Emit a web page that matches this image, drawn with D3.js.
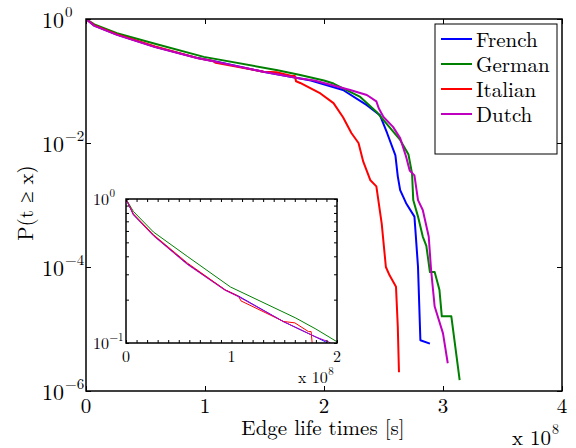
<!DOCTYPE html>
<html>
<head>
<meta charset="utf-8">
<script src="https://cdn.jsdelivr.net/npm/d3@7"></script>
<style>
  body { margin: 0; background: #fff; }
</style>
</head>
<body>
<div id="chart"></div>
<script>
// ---- data (x in units of 1e8 s, P = P(t >= x)) ----
const seriesNames = ["French", "German", "Italian", "Dutch"];

const frenchX = [0, 0.07, 0.26, 0.58, 0.94, 1.07, 1.49, 1.80, 1.89, 2.16, 2.36, 2.47, 2.53, 2.60, 2.62, 2.64, 2.69, 2.76, 2.77, 2.79, 2.81, 2.89];
const frenchP = [1, 0.78, 0.56, 0.355, 0.234, 0.211, 0.141, 0.110, 0.102, 0.0716, 0.0407, 0.0282, 0.0145, 0.0063, 0.0029, 0.00174, 0.00107, 6.5e-4, 3.5e-4, 1.0e-4, 6.6e-6, 5.8e-6];

const germanX = [0, 0.07, 0.26, 0.58, 0.99, 1.61, 1.80, 2.0, 2.08, 2.30, 2.44, 2.55, 2.64, 2.71, 2.74, 2.75, 2.79, 2.83, 2.86, 2.89, 2.93, 2.97, 2.99, 3.07, 3.14];
const germanP = [1, 0.82, 0.59, 0.40, 0.245, 0.149, 0.125, 0.102, 0.091, 0.056, 0.032, 0.018, 0.0112, 0.0065, 0.0032, 0.0012, 6.5e-4, 3.1e-4, 2.2e-4, 8.3e-5, 8.3e-5, 4.3e-5, 1.6e-5, 1.6e-5, 1.5e-6];

const italianX = [0, 0.07, 0.26, 0.58, 0.94, 1.067, 1.09, 1.494, 1.60, 1.73, 1.755, 1.765, 1.80, 1.97, 2.08, 2.16, 2.23, 2.29, 2.33, 2.39, 2.44, 2.485, 2.52, 2.55, 2.605, 2.62, 2.63];
const italianP = [1, 0.79, 0.565, 0.36, 0.234, 0.211, 0.196, 0.141, 0.138, 0.120, 0.120, 0.099, 0.093, 0.063, 0.044, 0.026, 0.0145, 0.010, 0.005, 0.0025, 0.002, 5e-4, 1e-4, 7.4e-5, 4.8e-5, 1.1e-5, 2.0e-6];

const dutchX = [0, 0.07, 0.26, 0.58, 0.94, 1.07, 1.49, 1.80, 1.92, 2.22, 2.36, 2.44, 2.46, 2.50, 2.58, 2.64, 2.69, 2.72, 2.76, 2.79, 2.83, 2.88, 2.90, 2.93, 3.00, 3.04];
const dutchP = [1, 0.776, 0.555, 0.352, 0.232, 0.209, 0.141, 0.110, 0.102, 0.0716, 0.0594, 0.0468, 0.0363, 0.0263, 0.0182, 0.0120, 0.0060, 0.0036, 0.0030, 0.0012, 8.3e-4, 3.1e-4, 8.9e-5, 2.3e-5, 8.5e-6, 2.8e-6];

// tick labels
const mainXTicks = [0, 1, 2, 3, 4];
const mainYExps = [0, -2, -4, -6];
const insetXTicks = [0, 1, 2];
const insetYExps = [0, -1];

// ---- drawing ----
const FONT = "'Latin Modern Roman', 'Liberation Serif'";
const colors = ["#0000ff", "#008000", "#ff0000", "#bf00bf"];
const series = [
  { name: seriesNames[0], xs: frenchX, ps: frenchP },
  { name: seriesNames[1], xs: germanX, ps: germanP },
  { name: seriesNames[2], xs: italianX, ps: italianP },
  { name: seriesNames[3], xs: dutchX, ps: dutchP }
].map((s, i) => ({ ...s, color: colors[i], pts: s.xs.map((x, j) => [x, s.ps[j]]) }));

const W = 576, H = 448;
const svg = d3.select("#chart").append("svg")
  .attr("width", W).attr("height", H);

// main plot area
const m = { left: 86, top: 19, right: 562, bottom: 391 };
const x = d3.scaleLinear().domain([0, 4]).range([m.left, m.right]);
const y = d3.scaleLog().domain([1e-6, 1]).range([m.bottom, m.top]);

svg.append("defs").append("clipPath").attr("id", "mainclip")
  .append("rect").attr("x", m.left).attr("y", m.top)
  .attr("width", m.right - m.left).attr("height", m.bottom - m.top);

const line = d3.line().x(d => x(d[0])).y(d => y(d[1]));

svg.append("g").attr("clip-path", "url(#mainclip)")
  .selectAll("path").data(series).enter().append("path")
  .attr("d", d => line(d.pts))
  .attr("fill", "none")
  .attr("stroke", d => d.color)
  .attr("stroke-width", 2)
  .attr("stroke-linejoin", "round");

// axes, ticks pointing inwards on all four sides
function tickAxis(axis, transform) {
  const g = svg.append("g").attr("transform", transform).call(axis);
  g.select(".domain").remove();
  g.selectAll(".tick line").attr("stroke", "#000").attr("stroke-width", 1);
  g.selectAll(".tick text").remove();
  return g;
}
tickAxis(d3.axisBottom(x).tickValues(mainXTicks).tickSize(-5), `translate(0,${m.bottom})`);
tickAxis(d3.axisTop(x).tickValues(mainXTicks).tickSize(-5), `translate(0,${m.top})`);
tickAxis(d3.axisLeft(y).tickValues(mainYExps.map(e => Math.pow(10, e))).tickSize(-5), `translate(${m.left},0)`);
tickAxis(d3.axisRight(y).tickValues(mainYExps.map(e => Math.pow(10, e))).tickSize(-5), `translate(${m.right},0)`);

svg.append("rect")
  .attr("x", m.left).attr("y", m.top)
  .attr("width", m.right - m.left).attr("height", m.bottom - m.top)
  .attr("fill", "none").attr("stroke", "#000").attr("stroke-width", 1.5);

// tick labels
svg.append("g").selectAll("text").data(mainXTicks).enter().append("text")
  .attr("x", d => x(d)).attr("y", m.bottom + 22)
  .attr("text-anchor", "middle").attr("font-size", 21)
  .text(d => d);

const yLab = svg.append("g").selectAll("text").data(mainYExps).enter().append("text")
  .attr("x", 42).attr("y", d => y(Math.pow(10, d)) + 9)
  .attr("font-size", 22);
yLab.append("tspan").text("10");
yLab.append("tspan").attr("font-size", 15).attr("dy", -11).attr("dx", 1)
  .text(d => d === 0 ? "0" : "\u2212" + (-d));

// axis labels
svg.append("text")
  .attr("x", (m.left + m.right) / 2 - 1).attr("y", 435)
  .attr("text-anchor", "middle").attr("font-size", 21)
  .text("Edge life times [s]");

svg.append("text")
  .attr("transform", "translate(33,203) rotate(-90)")
  .attr("text-anchor", "middle").attr("font-size", 21)
  .text("P(t \u2265 x)");

const mult = svg.append("text").attr("x", 512).attr("y", 445).attr("font-size", 21);
mult.append("tspan").text("x 10");
mult.append("tspan").attr("font-size", 14).attr("dy", -11).attr("dx", 1).text("8");

// legend
const lg = { x: 435, y: 24, w: 122, h: 130 };
svg.append("rect")
  .attr("x", lg.x).attr("y", lg.y).attr("width", lg.w).attr("height", lg.h)
  .attr("fill", "#fff").attr("stroke", "#000").attr("stroke-width", 1);
const entries = svg.append("g").selectAll("g").data(series).enter().append("g")
  .attr("transform", (d, i) => `translate(${lg.x}, ${lg.y + 15 + i * 25})`);
entries.append("line")
  .attr("x1", 6).attr("x2", 37).attr("y1", 0).attr("y2", 0)
  .attr("stroke", d => d.color).attr("stroke-width", 2);
entries.append("text")
  .attr("x", 41).attr("y", 7.5).attr("font-size", 21)
  .text(d => d.name);

// ---- inset: same data, linear x over 0..2e8, y 0.1..1 ----
const im = { left: 126, top: 199, right: 337, bottom: 343 };
const ix = d3.scaleLinear().domain([0, 2]).range([im.left, im.right]);
const iy = d3.scaleLog().domain([0.1, 1]).range([im.bottom, im.top]);

svg.append("rect")
  .attr("x", im.left).attr("y", im.top)
  .attr("width", im.right - im.left).attr("height", im.bottom - im.top)
  .attr("fill", "#fff");

svg.select("defs").append("clipPath").attr("id", "insetclip")
  .append("rect").attr("x", im.left).attr("y", im.top)
  .attr("width", im.right - im.left).attr("height", im.bottom - im.top);

const iline = d3.line().x(d => ix(d[0])).y(d => iy(d[1]));
svg.append("g").attr("clip-path", "url(#insetclip)")
  .selectAll("path").data(series).enter().append("path")
  .attr("d", d => iline(d.pts))
  .attr("fill", "none")
  .attr("stroke", d => d.color)
  .attr("stroke-width", 1);

// inset ticks: minor every 0.1 on x, log minors on y
const ixMinor = d3.range(0, 21).map(i => i / 10);
const iyMinor = d3.range(1, 11).map(i => i / 10);
tickAxis(d3.axisBottom(ix).tickValues(ixMinor).tickSize(-3), `translate(0,${im.bottom})`);
tickAxis(d3.axisTop(ix).tickValues(ixMinor).tickSize(-3), `translate(0,${im.top})`);
tickAxis(d3.axisLeft(iy).tickValues(iyMinor).tickSize(-3), `translate(${im.left},0)`);
tickAxis(d3.axisRight(iy).tickValues(iyMinor).tickSize(-3), `translate(${im.right},0)`);

svg.append("rect")
  .attr("x", im.left).attr("y", im.top)
  .attr("width", im.right - im.left).attr("height", im.bottom - im.top)
  .attr("fill", "none").attr("stroke", "#000").attr("stroke-width", 1.5);

svg.append("g").selectAll("text").data(insetXTicks).enter().append("text")
  .attr("x", d => ix(d)).attr("y", im.bottom + 19)
  .attr("text-anchor", "middle").attr("font-size", 16)
  .text(d => d);

const iyLab = svg.append("g").selectAll("text").data(insetYExps).enter().append("text")
  .attr("x", 93).attr("y", d => iy(Math.pow(10, d)) + 6)
  .attr("font-size", 16);
iyLab.append("tspan").text("10");
iyLab.append("tspan").attr("font-size", 11).attr("dy", -8).attr("dx", 0.5)
  .text(d => d === 0 ? "0" : "\u2212" + (-d));

const imult = svg.append("text").attr("x", 298).attr("y", 383).attr("font-size", 16);
imult.append("tspan").text("x 10");
imult.append("tspan").attr("font-size", 11).attr("dy", -8).attr("dx", 0.5).text("8");

// set the font on every text element directly
svg.selectAll("text").style("font-family", FONT).attr("fill", "#000");
</script>
</body>
</html>
